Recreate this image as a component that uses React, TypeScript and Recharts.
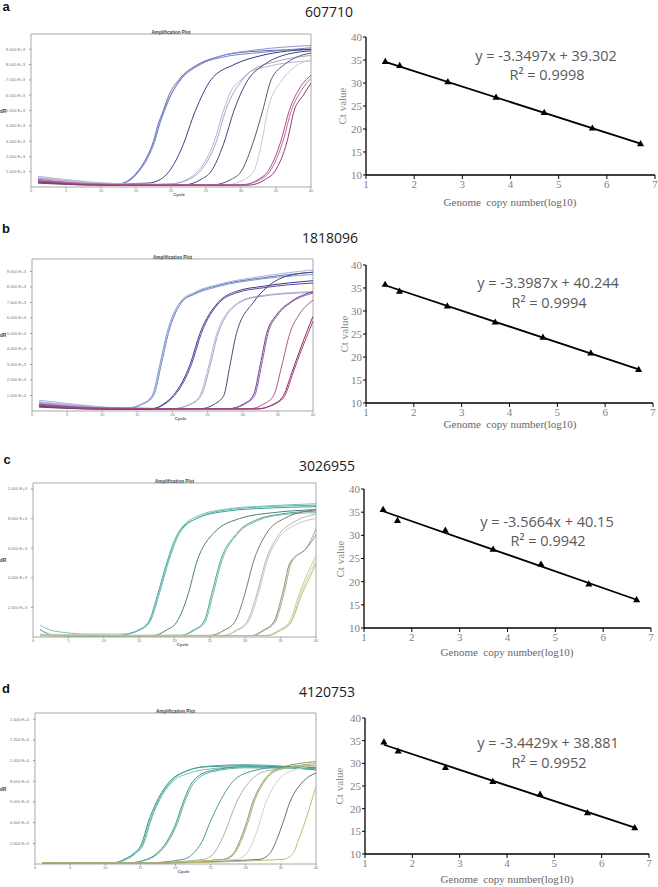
import {
  LineChart,
  Line,
  XAxis,
  YAxis,
  ZAxis,
  ReferenceArea,
  ComposedChart,
  Scatter,
} from "recharts";

type P = [number, number]; // [cycle, dR]

// ---- standard curves (right column) ----
const logCopies = [1.4, 1.7, 2.7, 3.7, 4.7, 5.7, 6.7];
const ctA = [34.6, 33.7, 30.2, 26.8, 23.5, 20.1, 16.7];
const ctB = [35.7, 34.2, 31.0, 27.5, 24.2, 20.8, 17.2];
const ctC = [35.5, 33.1, 31.0, 26.9, 23.7, 19.4, 16.0];
const ctD = [34.6, 32.6, 29.0, 25.9, 23.1, 19.0, 15.7];

// trend line ends at log10 = 1.4 and 6.7
const trendX = [1.4, 6.7];
const trendA = [34.6, 16.8];
const trendB = [35.6, 17.3];
const trendC = [35.2, 16.1];
const trendD = [34.1, 15.8];

const eqA = ["y = -3.3497x + 39.302", "R² = 0.9998"];
const eqB = ["y = -3.3987x + 40.244", "R² = 0.9994"];
const eqC = ["y = -3.5664x + 40.15", "R² = 0.9942"];
const eqD = ["y = -3.4429x + 38.881", "R² = 0.9952"];

const titles = ["607710", "1818096", "3026955", "4120753"];
const letters = ["a", "b", "c", "d"];

const ctTicks = [10, 15, 20, 25, 30, 35, 40];
const logTicks = [1, 2, 3, 4, 5, 6, 7];
const cycleTicks = [0, 5, 10, 15, 20, 25, 30, 35, 40];
const ampTicksAB = [1000, 2000, 3000, 4000, 5000, 6000, 7000, 8000, 9000];
const ampTicksC = [2000, 4000, 6000, 8000, 10000];
const ampTicksD = [2000, 4000, 6000, 8000, 10000, 12000, 14000];

// ---- amplification curves (left column) ----
const curvesA: P[][] = [
  [[1, 420], [6, 280], [12, 150], [13.8, 400], [15.2, 1000], [16.6, 2000], [17.5, 3000], [18.1, 4000], [18.9, 5000], [19.7, 6000], [21.1, 7000], [23.8, 8000], [26.6, 8500], [31.4, 8850], [40, 9000]],
  [[1, 600], [6, 380], [12, 180], [14, 400], [15.4, 1000], [16.8, 2000], [17.7, 3000], [18.3, 4000], [19.1, 5000], [20, 6000], [21.4, 7000], [24.2, 8000], [27, 8550], [32, 8950], [40, 9250]],
  [[1, 300], [6, 200], [12, 120], [13.9, 400], [15.3, 1000], [17.6, 3000], [19, 5000], [21.3, 7000], [24, 8000], [27, 8450], [33, 8800], [40, 9100]],
  [[1, 350], [8, 180], [16.6, 250], [18.5, 500], [19.7, 1000], [21.5, 2500], [23.5, 5000], [25.7, 7000], [29, 8000], [33, 8600], [40, 9000]],
  [[1, 700], [8, 350], [16, 150], [20, 200], [22.3, 500], [23.8, 1000], [26.2, 3000], [27.5, 5000], [28.6, 6300], [30, 7000], [31.2, 7500], [34, 7900], [40, 8250]],
  [[1, 550], [8, 300], [16, 150], [20, 200], [22.6, 500], [24.1, 1000], [26.5, 3000], [27.8, 5000], [30.2, 7000], [31.5, 7600], [35, 8200], [40, 8600]],
  [[1, 300], [10, 150], [22, 150], [24.3, 500], [25.7, 1000], [27.5, 2800], [29, 5000], [31, 7000], [33.3, 8000], [36, 8600], [40, 8900]],
  [[1, 250], [10, 120], [26, 150], [28.6, 500], [30, 1000], [31.8, 3000], [33.1, 5000], [34.3, 7000], [36.2, 8000], [38, 8500], [40, 8750]],
  [[1, 650], [10, 250], [28, 150], [30.5, 500], [31.8, 1000], [33, 3000], [33.8, 5000], [35.9, 7000], [37.5, 7800], [40, 8300]],
  [[1, 400], [10, 150], [30, 120], [32.5, 500], [33.8, 1000], [35.7, 3000], [36.9, 5000], [38.3, 6400], [40, 7300]],
  [[1, 500], [10, 200], [30, 150], [32.8, 500], [34.1, 1000], [36, 3000], [37.2, 5000], [38.6, 6300], [40, 7100]],
  [[1, 300], [10, 120], [31, 120], [33.5, 500], [34.8, 1000], [36.6, 3000], [37.6, 5000], [38.9, 6000], [40, 6800]],
];
const colorsA = ["#5b6bb5", "#8f97cf", "#7b86c4", "#3a3c85", "#b9b4d6", "#a8a6c8", "#4b4275", "#5b5a6e", "#c9c7d4", "#b0488a", "#c06aa3", "#8e3a74"];

const curvesB: P[][] = [
  [[1, 550], [8, 300], [13, 150], [15.6, 450], [17.1, 1000], [18.2, 3000], [19.2, 5000], [21.1, 7000], [23, 7500], [26.3, 8000], [32.5, 8500], [40, 8800]],
  [[1, 350], [8, 200], [13, 120], [15.8, 450], [17.3, 1000], [18.4, 3000], [19.4, 5000], [21.3, 7000], [23.2, 7600], [26.5, 8100], [33, 8600], [40, 8950]],
  [[1, 700], [8, 350], [13, 180], [15.7, 450], [17.2, 1000], [18.3, 3000], [19.3, 5000], [21.2, 7100], [23.1, 7650], [26.4, 8150], [33, 8700], [40, 9100]],
  [[1, 300], [10, 150], [17, 120], [18.7, 450], [20.1, 1000], [22.5, 3000], [23.9, 5000], [26.5, 7000], [29, 7700], [33, 8050], [40, 8400]],
  [[1, 400], [10, 180], [17, 150], [18.9, 450], [20.3, 1000], [22.7, 3000], [24.1, 5000], [26.7, 7000], [29, 7600], [33, 7950], [40, 8250]],
  [[1, 600], [10, 250], [20, 150], [22.5, 450], [23.9, 1000], [25.2, 3000], [26.3, 5000], [29.4, 7000], [32, 7400], [40, 7700]],
  [[1, 500], [10, 220], [20, 150], [22.7, 450], [24.1, 1000], [25.4, 3000], [26.5, 5000], [29.6, 7000], [32, 7350], [40, 7650]],
  [[1, 250], [10, 120], [24, 150], [26, 450], [27.3, 1000], [28.2, 3000], [29.1, 5000], [31.5, 7000], [33.5, 8000], [36.3, 8700], [40, 8950]],
  [[1, 350], [10, 150], [28, 150], [30.1, 450], [31.5, 1000], [32.5, 3000], [33.4, 5000], [34.8, 6200], [36.7, 7000], [40, 7700]],
  [[1, 450], [10, 200], [28, 150], [30.3, 450], [31.7, 1000], [32.7, 3000], [33.6, 5000], [35, 6200], [36.9, 7000], [40, 7600]],
  [[1, 400], [10, 150], [31, 150], [33, 450], [34.4, 1000], [35.6, 3000], [36.7, 5000], [38, 6200], [39.6, 7000], [40, 7150]],
  [[1, 300], [10, 120], [32, 120], [34.4, 450], [35.8, 1000], [37, 2500], [38.2, 4000], [39.2, 5200], [40, 6100]],
  [[1, 350], [10, 150], [32, 150], [34.6, 450], [36, 1000], [37.2, 2500], [38.4, 4000], [39.3, 5000], [40, 5800]],
];
const colorsB = ["#7f9ad0", "#5b78bf", "#a9b6dc", "#3d3a88", "#4f4a9a", "#bdb6d6", "#a8a2c8", "#4e4470", "#6b3f8e", "#8a5aa5", "#b05592", "#8b2f63", "#a0467a"];

const curvesC: P[][] = [
  [[1, 500], [3, 120], [12, 80], [13.2, 200], [14.8, 450], [16.3, 1000], [17.7, 3000], [18.9, 5000], [20.5, 7000], [23.1, 8000], [27.4, 8500], [33, 8700], [40, 8800]],
  [[1, 120], [5, 80], [12, 80], [13.4, 200], [15, 450], [16.5, 1000], [17.9, 3000], [19.1, 5000], [20.7, 7000], [23.3, 8050], [27.6, 8600], [33, 8800], [40, 8900]],
  [[1, 800], [3, 400], [8, 200], [13.3, 200], [14.9, 450], [16.4, 1000], [17.8, 3000], [19, 5000], [20.6, 7100], [23.2, 8150], [27.5, 8650], [33, 8850], [40, 9000]],
  [[1, 100], [12, 80], [17, 100], [18.8, 450], [20.3, 1000], [22, 3000], [23.1, 5000], [25.5, 7000], [29.2, 8000], [34, 8400], [40, 8600]],
  [[1, 100], [12, 80], [21, 100], [22.6, 450], [24.1, 1000], [25.3, 3000], [26.4, 5000], [28.8, 7000], [31.5, 7900], [35, 8300], [40, 8500]],
  [[1, 150], [12, 100], [21, 120], [22.8, 450], [24.3, 1000], [25.5, 3000], [26.6, 5000], [29, 7000], [31.7, 7850], [35, 8250], [40, 8400]],
  [[1, 100], [12, 80], [25, 100], [27, 450], [28.5, 1000], [30, 3000], [31.1, 5000], [33, 7000], [35.5, 8000], [40, 8600]],
  [[1, 150], [12, 100], [27, 100], [28.7, 450], [30.2, 1000], [31.7, 3000], [32.8, 5000], [34.9, 7000], [37, 7800], [40, 8300]],
  [[1, 200], [12, 120], [27, 120], [28.9, 450], [30.4, 1000], [31.9, 3000], [33, 5000], [35.1, 6900], [37.2, 7600], [40, 8000]],
  [[1, 100], [12, 80], [31, 100], [32.5, 450], [34, 1000], [35.3, 3000], [36.3, 5000], [38.7, 6000], [40, 6900]],
  [[1, 120], [12, 80], [31, 100], [32.7, 450], [34.2, 1000], [35.5, 3000], [36.5, 5000], [38.9, 6200], [40, 7300]],
  [[1, 100], [12, 80], [33, 100], [34.7, 450], [36.2, 1000], [37.7, 3000], [38.8, 4300], [40, 5500]],
  [[1, 150], [12, 100], [33, 100], [34.9, 450], [36.4, 1000], [37.9, 3000], [39, 4200], [40, 5200]],
  [[1, 120], [12, 90], [33.2, 100], [35, 450], [36.5, 1000], [38, 2900], [39.1, 4000], [40, 5000]],
];
const colorsC = ["#3e9e95", "#5fb5ab", "#7cc4bb", "#4a7f78", "#4fa699", "#76b8ac", "#7a7a74", "#b6b9ac", "#c8cabb", "#8f9277", "#a9ab8f", "#c9c99a", "#d7d6ab", "#bcbd86"];

const curvesD: P[][] = [
  [[1, 100], [10, 60], [11, 80], [12.7, 450], [14, 1000], [15.2, 2000], [16.1, 4000], [17.3, 6000], [19.2, 8000], [21.6, 9000], [24.4, 9400], [30, 9500], [40, 9100]],
  [[1, 120], [11, 80], [12.9, 450], [14.2, 1000], [15.4, 2000], [16.3, 4000], [17.5, 6000], [19.4, 8000], [21.8, 9050], [24.6, 9450], [30, 9600], [40, 9200]],
  [[1, 150], [11, 90], [13, 450], [14.3, 1000], [15.5, 2000], [16.4, 4000], [17.6, 6000], [19.5, 7900], [22, 8800], [25, 9200], [30, 9400], [40, 9300]],
  [[1, 100], [13, 80], [15.9, 450], [17.3, 1000], [18.8, 2200], [20.1, 4000], [21.1, 6000], [22.5, 8000], [24.9, 9000], [30, 9400], [40, 9300]],
  [[1, 120], [13, 90], [16.1, 450], [17.5, 1000], [19, 2200], [20.3, 4000], [21.3, 6000], [22.7, 7900], [25.1, 8900], [30, 9300], [40, 9200]],
  [[1, 100], [15, 80], [21.1, 450], [22.5, 1000], [23.8, 2200], [24.9, 4000], [26.3, 6000], [28.2, 8000], [31, 9000], [35, 9400], [40, 9500]],
  [[1, 120], [15, 90], [24, 450], [25.4, 1000], [27, 3000], [28.7, 6000], [30.6, 8000], [33, 9000], [40, 9500]],
  [[1, 100], [15, 80], [26.8, 450], [28.2, 1000], [29.3, 2500], [30.1, 4000], [31, 6000], [32.5, 8000], [34.5, 9200], [40, 9900]],
  [[1, 100], [15, 80], [27, 450], [28.4, 1000], [29.5, 2500], [30.3, 4000], [31.2, 6000], [32.7, 8000], [34.7, 9100], [40, 9700]],
  [[1, 150], [15, 100], [28.7, 450], [30.1, 1000], [31.5, 3000], [32.9, 6000], [34.5, 8000], [36.5, 9000], [40, 9500]],
  [[1, 100], [15, 80], [32, 450], [33.4, 1000], [34.5, 2500], [35.3, 4000], [36.3, 6000], [38.2, 8000], [40, 8800]],
  [[1, 100], [15, 80], [35.3, 450], [36.7, 1000], [37.6, 2500], [38.4, 4000], [39.2, 5700], [40, 7500]],
];
const colorsD = ["#2f8f86", "#4fa79d", "#78bdb3", "#3a958a", "#65b0a5", "#4b9c8c", "#a8b5a5", "#8b9a5c", "#a3ad74", "#cfd3c0", "#6e6e6a", "#c2bd6a"];

const sci = (v: number) =>
  v >= 10000 ? `${(v / 10000).toFixed(3)} E+4` : `${(v / 1000).toFixed(3)} E+3`;

function Txt({ x, y, size, children, font = "'Open Sans', sans-serif", color = "#222", bold = false, rotate = 0 }: any) {
  return (
    <div
      style={{
        position: "absolute",
        left: x,
        top: y,
        transform: `translate(-50%, -50%) rotate(${rotate}deg)`,
        fontSize: size,
        lineHeight: 1,
        fontFamily: font,
        fontWeight: bold ? 700 : 400,
        color,
        whiteSpace: "pre",
      }}
    >
      {children}
    </div>
  );
}

// tiny instrument-style tick label, kept on one line
function SciTick(p: any) {
  return (
    <text x={p.x} y={p.y} dy={1.5} textAnchor="end" fontSize={4.2} fill="#777" fontFamily="Arial, sans-serif">
      {sci(p.payload.value)}
    </text>
  );
}

function AmpPlot({ x0, x1, y0, y1, ymax, ticks, curves, colors }: any) {
  const padT = 6;
  const padR = 4;
  const axisH = 9;
  return (
    <div style={{ position: "absolute", left: 0, top: y0 - padT }}>
      <LineChart
        width={x1 + padR}
        height={padT + (y1 - y0) + axisH}
        margin={{ top: padT, right: padR, left: 0, bottom: 0 }}
      >
        <XAxis
          type="number"
          dataKey="c"
          domain={[0, 40]}
          ticks={cycleTicks}
          interval={0}
          height={axisH}
          allowDataOverflow
          axisLine={false}
          tickLine={{ stroke: "#999" }}
          tickSize={1.5}
          tickMargin={0.5}
          tick={{ fontSize: 4, fill: "#777", fontFamily: "Arial, sans-serif" }}
        />
        <YAxis
          type="number"
          domain={[0, ymax]}
          ticks={ticks}
          interval={0}
          width={x0}
          allowDataOverflow
          axisLine={false}
          tickLine={{ stroke: "#999" }}
          tickSize={2}
          tickMargin={4}
          tick={SciTick}
        />
        <ReferenceArea x1={0} x2={40} y1={0} y2={ymax} fill="#fff" fillOpacity={0} stroke="#a8a8a8" strokeWidth={1} />
        {curves.map((pts: P[], i: number) => (
          <Line
            key={i}
            data={pts.map(([c, v]) => ({ c, v }))}
            dataKey="v"
            type="monotone"
            stroke={colors[i]}
            strokeWidth={1}
            dot={false}
            isAnimationActive={false}
          />
        ))}
      </LineChart>
    </div>
  );
}

function StdPlot({ x0, x1, y0, y1, ct, trend }: any) {
  const yw = 30;
  const padT = 8;
  const padR = 4;
  const xh = 18;
  const pts = logCopies.map((x, i) => ({ x, y: ct[i] }));
  const line = trendX.map((x, i) => ({ x, y: trend[i] }));
  const tickStyle = { fontSize: 11, fill: "#7f7f7f", fontFamily: "'Liberation Serif', serif" };
  return (
    <div style={{ position: "absolute", left: x0 - yw, top: y0 - padT }}>
      <ComposedChart
        width={yw + (x1 - x0) + padR}
        height={padT + (y1 - y0) + xh}
        margin={{ top: padT, right: padR, left: 0, bottom: 0 }}
      >
        <XAxis
          type="number"
          dataKey="x"
          domain={[1, 7]}
          ticks={logTicks}
          interval={0}
          height={xh}
          axisLine={{ stroke: "#000", strokeWidth: 1.3 }}
          tickLine={{ stroke: "#000" }}
          tickSize={4}
          tickMargin={1}
          tick={tickStyle}
        />
        <YAxis
          type="number"
          dataKey="y"
          domain={[10, 40]}
          ticks={ctTicks}
          interval={0}
          width={yw}
          axisLine={{ stroke: "#000", strokeWidth: 1.3 }}
          tickLine={{ stroke: "#000" }}
          tickSize={3}
          tickMargin={1}
          tick={tickStyle}
        />
        <ZAxis range={[22, 22]} />
        <Line data={line} dataKey="y" stroke="#000" strokeWidth={1.8} dot={false} isAnimationActive={false} />
        <Scatter data={pts} dataKey="y" fill="#000" shape="triangle" isAnimationActive={false} />
      </ComposedChart>
    </div>
  );
}

const serif = "'Liberation Serif', serif";

function Row({ idx, top, amp, std, eq }: any) {
  return (
    <>
      <Txt x={top.lx} y={top.ly} size={13} bold font="'Liberation Sans', Arial, sans-serif" color="#111">
        {letters[idx]}
      </Txt>
      <Txt x={top.tx} y={top.ty} size={14} color="#1a1a1a">
        {titles[idx]}
      </Txt>
      <AmpPlot {...amp} />
      <Txt x={(amp.x0 + amp.x1) / 2} y={amp.y0 - 1} size={4.6} bold color="#444" font="Arial, sans-serif">
        Amplification Plot
      </Txt>
      <Txt x={3} y={(amp.y0 + amp.y1) / 2} size={5} bold color="#444" font="Arial, sans-serif">
        dR
      </Txt>
      <Txt x={(amp.x0 + amp.x1) / 2 + 8} y={amp.y1 + 8} size={4.4} bold color="#555" font="Arial, sans-serif">
        Cycle
      </Txt>
      <StdPlot {...std} />
      <Txt x={std.ctX} y={(std.y0 + std.y1) / 2} size={11} color="#8a8a8a" font={serif} rotate={-90}>
        Ct value
      </Txt>
      <Txt x={std.gx} y={std.gy} size={11} color="#666" font={serif}>
        {"Genome  copy number(log10)"}
      </Txt>
      <Txt x={eq.x} y={eq.y1} size={14.5} color="#595959">
        {eq.text[0]}
      </Txt>
      <Txt x={eq.x + 1} y={eq.y2} size={14.5} color="#595959">
        {eq.text[1]}
      </Txt>
    </>
  );
}

export default function App() {
  return (
    <div
      style={{
        position: "absolute",
        left: 0,
        top: 0,
        width: 658,
        height: 887,
        background: "#fff",
        overflow: "hidden",
      }}
    >
      <Row
        idx={0}
        top={{ lx: 6, ly: 6, tx: 329, ty: 12 }}
        amp={{ x0: 31, x1: 311, y0: 34, y1: 187, ymax: 10000, ticks: ampTicksAB, curves: curvesA, colors: colorsA }}
        std={{ x0: 366, x1: 655, y0: 37, y1: 175, ct: ctA, trend: trendA, ctX: 342, gx: 510, gy: 202 }}
        eq={{ x: 546, y1: 56, y2: 75, text: eqA }}
      />
      <Row
        idx={1}
        top={{ lx: 6, ly: 228, tx: 330, ty: 238 }}
        amp={{ x0: 32, x1: 313, y0: 259, y1: 411, ymax: 9800, ticks: ampTicksAB, curves: curvesB, colors: colorsB }}
        std={{ x0: 366, x1: 653, y0: 265, y1: 403, ct: ctB, trend: trendB, ctX: 344, gx: 510, gy: 424 }}
        eq={{ x: 548, y1: 283, y2: 303, text: eqB }}
      />
      <Row
        idx={2}
        top={{ lx: 7, ly: 459, tx: 327, ty: 466 }}
        amp={{ x0: 33, x1: 316, y0: 483, y1: 637, ymax: 10400, ticks: ampTicksC, curves: curvesC, colors: colorsC }}
        std={{ x0: 364, x1: 651, y0: 489, y1: 628, ct: ctC, trend: trendC, ctX: 340, gx: 507, gy: 652 }}
        eq={{ x: 547, y1: 522, y2: 541, text: eqC }}
      />
      <Row
        idx={3}
        top={{ lx: 6, ly: 688, tx: 327, ty: 692 }}
        amp={{ x0: 35, x1: 316, y0: 713, y1: 864, ymax: 14600, ticks: ampTicksD, curves: curvesD, colors: colorsD }}
        std={{ x0: 365, x1: 649, y0: 718, y1: 854, ct: ctD, trend: trendD, ctX: 339, gx: 507, gy: 879 }}
        eq={{ x: 548, y1: 743, y2: 763, text: eqD }}
      />
    </div>
  );
}
